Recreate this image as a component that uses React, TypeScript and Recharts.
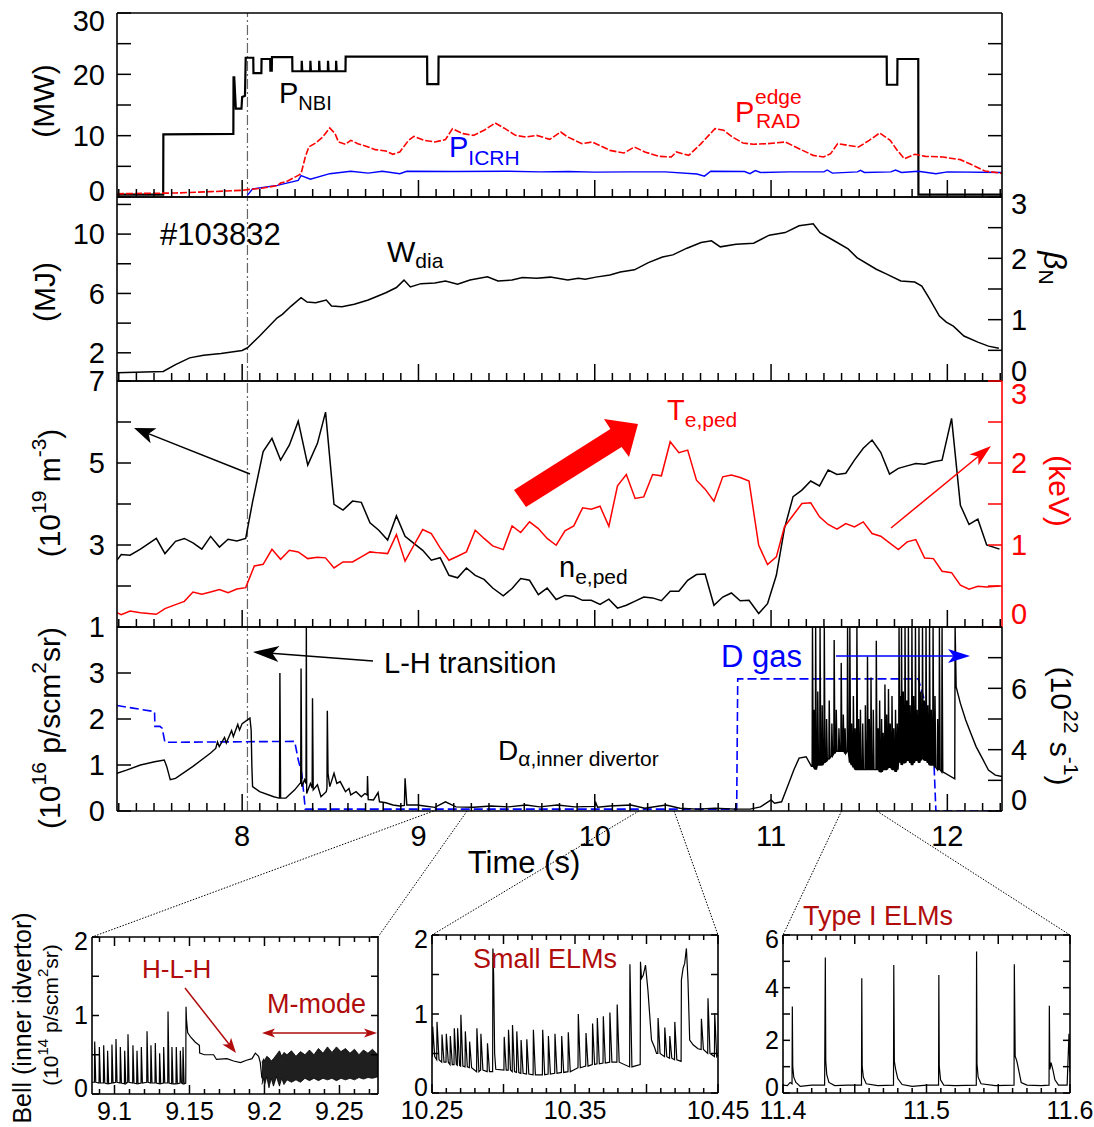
import React from 'react';
import { ComposedChart, Line, Area, XAxis, YAxis, ReferenceLine } from 'recharts';

const FONT = "'Liberation Sans', Arial, Helvetica, sans-serif";
const BLACK = '#000000';
const RED = '#ff0000';
const BLUE = '#0000ff';
const DARKRED = '#b00c0c';
const AXIS_LINE = { stroke: '#000', strokeWidth: 1.6 };

type Pt = [number, number];
type Spike = [number, number, number]; // time, baseline, peak

// ================= MAIN FIGURE DATA =================
const timeDomain: [number, number] = [7.29, 12.31];
const timeTickLabels = [8, 9, 10, 11, 12];
const timeTicks = Array.from({ length: 51 }, (_, i) => (73 + i) / 10);
const lhTime = 8.03;

// Panel 1 (MW)
const nbiPower: Pt[] = [
  [7.29, 0.4], [7.552, 0.4], [7.553, 10.2], [7.95, 10.3], [7.951, 19.5], [7.955, 19.5], [7.964, 14.4], [7.996, 14.4],
  [8.0, 16.3], [8.016, 16.5], [8.02, 22.7], [8.063, 22.7], [8.064, 20.2], [8.109, 20.2], [8.11, 22.5], [8.159, 22.5],
  [8.16, 20.6], [8.168, 20.6], [8.169, 22.8], [8.284, 22.8], [8.285, 20.5], [8.337, 20.5], [8.338, 22.2], [8.341, 20.5],
  [8.386, 20.5], [8.387, 22.2], [8.39, 20.5], [8.436, 20.5], [8.437, 22.2], [8.44, 20.5], [8.486, 20.5], [8.487, 22.2],
  [8.49, 20.5], [8.532, 20.5], [8.533, 22.2], [8.536, 20.5], [8.586, 20.5], [8.587, 22.9], [9.049, 22.9], [9.05, 18.4],
  [9.113, 18.4], [9.114, 22.9], [11.656, 22.9], [11.657, 18.3], [11.716, 18.3], [11.717, 22.5], [11.835, 22.5],
  [11.836, 0.4], [12.31, 0.4],
];
const icrhPower: Pt[] = [
  [8.03, 0.3], [8.059, 1.3], [8.199, 1.9], [8.318, 2.7], [8.334, 3.5], [8.387, 2.9], [8.497, 3.8], [8.616, 4.2],
  [8.715, 3.9], [8.795, 4.2], [8.894, 3.8], [8.934, 4.2], [9.2, 4.15], [9.5, 4.2], [9.69, 4.1], [9.85, 4.15],
  [10.0, 4.05], [10.2, 4.1], [10.4, 4.1], [10.58, 3.75], [10.622, 3.4], [10.658, 4.2], [10.85, 4.15], [10.88, 3.8],
  [10.911, 4.3], [10.94, 4.0], [11.1, 4.1], [11.3, 4.1], [11.318, 4.4], [11.348, 3.9], [11.49, 4.1], [11.507, 4.35],
  [11.53, 4.0], [11.68, 4.1], [11.706, 4.4], [11.74, 4.0], [11.835, 4.2], [11.935, 3.8], [12.0, 4.1], [12.31, 4.0],
];
const pRadEdge: Pt[] = [
  [7.29, 0.54], [7.622, 0.65], [7.821, 0.87], [8.0, 1.09], [8.03, 1.2], [8.119, 1.47], [8.199, 1.85], [8.218, 2.28],
  [8.258, 2.6], [8.318, 3.53], [8.334, 3.8], [8.358, 6.52], [8.378, 8.15], [8.417, 8.8], [8.457, 9.78], [8.497, 11.25],
  [8.527, 10.33], [8.546, 8.97], [8.586, 8.59], [8.616, 9.24], [8.656, 8.7], [8.715, 8.15], [8.755, 7.72], [8.815, 7.5],
  [8.855, 6.96], [8.894, 7.34], [8.944, 9.24], [8.974, 9.89], [9.034, 9.24], [9.093, 8.97], [9.153, 9.35], [9.193, 11.14],
  [9.252, 10.33], [9.312, 10.05], [9.372, 10.87], [9.435, 12.07], [9.491, 11.14], [9.55, 10.05], [9.61, 9.78], [9.67, 10.05],
  [9.745, 9.4], [9.807, 10.6], [9.847, 9.78], [9.927, 8.7], [9.986, 8.97], [10.086, 7.6], [10.165, 7.17], [10.225, 8.15],
  [10.284, 7.34], [10.364, 6.63], [10.434, 6.52], [10.463, 7.34], [10.533, 6.79], [10.603, 8.7], [10.682, 11.14],
  [10.732, 10.87], [10.781, 9.78], [10.841, 8.8], [10.901, 8.59], [10.98, 8.7], [11.08, 8.97], [11.159, 7.88],
  [11.239, 6.79], [11.298, 6.52], [11.338, 7.07], [11.378, 8.7], [11.437, 8.42], [11.497, 8.15], [11.557, 9.24],
  [11.616, 10.43], [11.676, 9.24], [11.716, 7.6], [11.756, 6.25], [11.815, 6.96], [11.875, 6.63], [11.974, 6.52],
  [12.074, 6.09], [12.133, 5.33], [12.213, 4.24], [12.296, 3.91], [12.31, 3.85],
];

// Panel 2 (MJ)
const wDia: Pt[] = [
  [7.29, 0.65], [7.552, 0.74], [7.622, 1.2], [7.702, 1.66], [7.781, 1.84], [7.88, 1.95], [8.0, 2.16], [8.03, 2.34],
  [8.099, 3.13], [8.199, 4.36], [8.228, 4.59], [8.278, 5.15], [8.334, 5.72], [8.368, 5.42], [8.417, 5.38], [8.477, 5.56],
  [8.507, 5.15], [8.566, 5.1], [8.636, 5.27], [8.715, 5.56], [8.815, 6.05], [8.875, 6.4], [8.918, 6.9], [8.954, 6.44],
  [9.014, 6.66], [9.093, 6.7], [9.153, 6.84], [9.222, 6.62], [9.292, 6.9], [9.391, 7.13], [9.451, 6.84], [9.531, 6.9],
  [9.59, 7.07], [9.67, 7.03], [9.748, 7.1], [9.847, 6.9], [9.907, 7.02], [9.946, 6.95], [10.006, 7.1], [10.086, 7.25],
  [10.145, 7.45], [10.225, 7.59], [10.304, 8.08], [10.384, 8.46], [10.443, 8.6], [10.523, 9.05], [10.603, 9.43],
  [10.662, 9.55], [10.712, 9.14], [10.801, 9.32], [10.901, 9.39], [10.99, 9.93], [11.08, 10.1], [11.159, 10.56],
  [11.239, 10.7], [11.278, 10.1], [11.358, 9.55], [11.437, 9.0], [11.487, 8.42], [11.597, 7.63], [11.656, 7.3],
  [11.736, 6.84], [11.815, 6.77], [11.855, 6.5], [11.895, 5.72], [11.955, 4.48], [11.994, 4.07], [12.034, 3.8],
  [12.094, 3.13], [12.173, 2.72], [12.233, 2.45], [12.292, 2.3],
];

// Panel 3
const nePed: Pt[] = [
  [7.29, 2.63], [7.314, 2.77], [7.364, 2.75], [7.423, 2.9], [7.513, 3.16], [7.562, 2.79], [7.622, 3.09], [7.672, 3.16],
  [7.721, 3.05], [7.771, 2.9], [7.821, 3.21], [7.871, 2.95], [7.92, 3.14], [7.97, 3.1], [8.02, 3.16], [8.059, 4.05],
  [8.119, 5.28], [8.169, 5.6], [8.218, 5.07], [8.268, 5.44], [8.318, 6.02], [8.372, 4.95], [8.427, 5.48], [8.473, 6.24],
  [8.521, 3.99], [8.572, 3.85], [8.626, 4.07], [8.676, 4.04], [8.725, 3.54], [8.775, 3.36], [8.825, 3.12], [8.875, 3.71],
  [8.924, 3.21], [8.974, 3.04], [9.024, 2.87], [9.073, 2.63], [9.123, 2.69], [9.173, 2.26], [9.222, 2.2], [9.272, 2.44],
  [9.322, 2.26], [9.372, 2.16], [9.421, 1.95], [9.481, 1.76], [9.531, 1.94], [9.58, 2.18], [9.63, 2.14], [9.68, 1.79],
  [9.73, 1.95], [9.781, 1.67], [9.831, 1.77], [9.881, 1.75], [9.931, 1.65], [9.98, 1.65], [10.03, 1.55], [10.08, 1.68],
  [10.129, 1.46], [10.179, 1.53], [10.229, 1.63], [10.278, 1.73], [10.328, 1.71], [10.378, 1.64], [10.428, 1.87],
  [10.477, 1.87], [10.527, 2.14], [10.577, 2.28], [10.626, 2.29], [10.676, 1.53], [10.726, 1.73], [10.775, 1.83],
  [10.825, 1.64], [10.875, 1.65], [10.93, 1.33], [10.98, 1.57], [11.03, 2.26], [11.076, 3.4], [11.125, 4.18],
  [11.175, 4.34], [11.225, 4.56], [11.275, 4.44], [11.324, 4.83], [11.374, 4.72], [11.424, 4.75], [11.473, 5.07],
  [11.523, 5.36], [11.573, 5.56], [11.622, 5.26], [11.672, 4.73], [11.722, 4.87], [11.772, 4.93], [11.821, 4.99],
  [11.871, 4.97], [11.921, 5.03], [11.97, 5.07], [12.024, 6.09], [12.074, 3.97], [12.123, 3.5], [12.173, 3.63],
  [12.223, 3.0], [12.296, 2.9],
];
const tePed: Pt[] = [
  [7.29, 0.175], [7.314, 0.15], [7.364, 0.195], [7.423, 0.175], [7.513, 0.155], [7.562, 0.224], [7.622, 0.273],
  [7.672, 0.313], [7.721, 0.427], [7.771, 0.4], [7.821, 0.427], [7.871, 0.456], [7.92, 0.419], [7.97, 0.464],
  [8.02, 0.48], [8.069, 0.745], [8.119, 0.765], [8.169, 0.948], [8.218, 0.826], [8.268, 0.936], [8.318, 0.916],
  [8.372, 0.834], [8.427, 0.85], [8.473, 0.843], [8.521, 0.72], [8.572, 0.794], [8.626, 0.794], [8.676, 0.855],
  [8.725, 0.916], [8.775, 0.904], [8.825, 0.895], [8.875, 1.127], [8.924, 0.802], [8.974, 0.997], [9.024, 1.188],
  [9.073, 1.14], [9.123, 0.965], [9.173, 0.814], [9.222, 0.863], [9.272, 0.916], [9.322, 1.18], [9.372, 1.08],
  [9.421, 0.989], [9.481, 0.944], [9.531, 1.233], [9.58, 1.152], [9.63, 1.282], [9.68, 1.2], [9.73, 1.08],
  [9.781, 0.997], [9.831, 1.172], [9.881, 1.233], [9.931, 1.453], [9.98, 1.437], [10.03, 1.473], [10.08, 1.229],
  [10.129, 1.722], [10.179, 1.86], [10.229, 1.567], [10.278, 1.587], [10.328, 1.86], [10.378, 1.844], [10.428, 2.259],
  [10.477, 2.125], [10.527, 2.157], [10.577, 1.79], [10.626, 1.681], [10.676, 1.534], [10.726, 1.831], [10.775, 1.852],
  [10.825, 1.823], [10.875, 1.779], [10.93, 0.997], [10.98, 0.761], [11.03, 0.855], [11.076, 1.221], [11.125, 1.363],
  [11.175, 1.506], [11.225, 1.514], [11.275, 1.343], [11.324, 1.25], [11.374, 1.193], [11.424, 1.262], [11.473, 1.221],
  [11.523, 1.282], [11.573, 1.14], [11.622, 1.107], [11.672, 1.026], [11.722, 0.944], [11.772, 1.038], [11.821, 1.066],
  [11.871, 0.842], [11.921, 0.834], [11.97, 0.68], [12.024, 0.663], [12.074, 0.509], [12.123, 0.46], [12.173, 0.497],
  [12.223, 0.488], [12.296, 0.5],
];

// Panel 4: D-alpha (10^16 p/scm^2sr) and D gas (right axis tick units)
const dAlphaTrace: Pt[] = [
  [7.29, 0.82], [7.344, 0.89], [7.423, 1.0], [7.503, 1.07], [7.558, 1.11], [7.572, 0.97], [7.592, 0.68], [7.622, 0.71],
  [7.721, 0.97], [7.821, 1.26], [7.85, 1.36], [7.86, 1.5], [7.87, 1.4], [7.9, 1.6], [7.91, 1.48], [7.94, 1.75],
  [7.95, 1.62], [7.975, 1.88], [7.985, 1.76], [8.0, 1.9], [8.03, 1.98], [8.044, 2.02], [8.051, 1.76], [8.055, 0.97],
  [8.059, 0.53], [8.099, 0.42], [8.179, 0.31], [8.209, 0.28], [8.212, 0.28], [8.214, 3.0], [8.218, 0.28], [8.248, 0.28],
  [8.298, 0.46], [8.328, 0.6], [8.332, 0.6], [8.334, 3.1], [8.338, 0.53], [8.354, 0.68], [8.362, 0.6], [8.364, 4.0],
  [8.366, 0.38], [8.387, 0.6], [8.397, 0.5], [8.399, 2.45], [8.403, 0.46], [8.427, 0.57], [8.447, 0.31], [8.477, 0.42],
  [8.481, 0.5], [8.483, 2.18], [8.487, 0.82], [8.497, 0.53], [8.507, 0.65], [8.521, 0.82], [8.537, 0.6], [8.556, 0.64],
  [8.586, 0.42], [8.606, 0.49], [8.616, 0.35], [8.646, 0.42], [8.676, 0.31], [8.696, 0.38], [8.709, 0.35], [8.711, 0.76],
  [8.715, 0.25], [8.745, 0.24], [8.771, 0.4], [8.779, 0.2], [8.815, 0.18], [8.855, 0.13], [8.894, 0.11], [8.92, 0.12],
  [8.924, 0.71], [8.934, 0.13], [8.994, 0.13], [9.034, 0.11], [9.093, 0.08], [9.153, 0.2], [9.213, 0.09], [9.312, 0.08],
  [9.411, 0.11], [9.511, 0.09], [9.61, 0.13], [9.688, 0.09], [9.787, 0.13], [9.887, 0.09], [10.0, 0.1], [10.006, 0.18],
  [10.016, 0.08], [10.086, 0.11], [10.205, 0.13], [10.284, 0.06], [10.404, 0.13], [10.483, 0.06], [10.583, 0.04],
  [10.682, 0.06], [10.801, 0.04], [10.881, 0.04], [10.94, 0.09], [11.0, 0.24], [11.02, 0.17], [11.06, 0.2], [11.1, 0.6],
  [11.129, 0.89], [11.159, 1.15], [11.199, 1.18], [11.229, 0.97],
  [12.042, 0.7], [12.044, 4.0], [12.05, 2.7], [12.074, 2.34], [12.104, 1.98], [12.133, 1.69], [12.163, 1.4],
  [12.203, 1.11], [12.233, 0.89], [12.272, 0.78], [12.31, 0.75],
];
const dAlphaElms: Spike[] = [
  [11.235, 0.97, 4.0], [11.244, 0.95, 2.2], [11.253, 0.9, 4.0], [11.265, 1.0, 2.6], [11.278, 1.0, 4.0],
  [11.29, 1.0, 2.3], [11.302, 1.05, 4.0], [11.315, 1.1, 2.0], [11.33, 1.15, 2.4], [11.345, 1.2, 1.9],
  [11.358, 1.25, 3.72], [11.37, 1.3, 2.2], [11.385, 1.3, 1.8], [11.398, 1.3, 3.22], [11.41, 1.3, 2.1],
  [11.42, 1.25, 1.8], [11.434, 1.3, 4.0], [11.447, 1.05, 4.0], [11.457, 1.0, 1.9], [11.467, 0.95, 2.5],
  [11.477, 0.9, 1.8], [11.487, 0.9, 4.0], [11.497, 0.9, 2.0], [11.507, 0.9, 2.2], [11.52, 0.9, 1.9],
  [11.535, 0.9, 2.3], [11.547, 0.9, 3.36], [11.557, 0.9, 2.0], [11.567, 0.9, 2.9], [11.58, 0.9, 2.2],
  [11.597, 0.9, 3.7], [11.607, 0.9, 1.8], [11.616, 0.85, 2.4], [11.627, 0.85, 2.0], [11.636, 0.9, 1.7],
  [11.646, 0.9, 2.75], [11.656, 0.9, 2.1], [11.666, 0.95, 2.65], [11.676, 0.95, 1.9], [11.686, 0.9, 2.5],
  [11.696, 0.9, 1.8], [11.706, 0.85, 2.2], [11.716, 0.9, 1.9], [11.726, 1.1, 4.0], [11.733, 1.05, 2.5],
  [11.74, 1.0, 4.0], [11.75, 1.05, 2.6], [11.76, 1.05, 4.0], [11.77, 1.1, 2.4], [11.779, 1.1, 4.0],
  [11.789, 1.05, 2.3], [11.799, 1.0, 4.0], [11.809, 1.05, 2.5], [11.819, 1.1, 4.0], [11.829, 1.1, 2.2],
  [11.839, 1.05, 4.0], [11.849, 1.1, 2.6], [11.859, 1.15, 4.0], [11.869, 1.1, 2.4], [11.879, 1.1, 4.0],
  [11.889, 1.05, 2.3], [11.899, 1.0, 4.0], [11.909, 1.0, 2.2], [11.919, 1.0, 4.0], [11.93, 0.95, 2.5],
  [11.945, 0.9, 2.0], [11.955, 0.9, 4.0], [11.97, 0.85, 4.0],
];
const gasRate: Pt[] = [
  [7.29, 3.44], [7.503, 3.24], [7.505, 2.76], [7.533, 2.76], [7.546, 2.7], [7.562, 2.24], [8.298, 2.27],
  [8.318, 1.67], [8.338, 1.23], [8.358, 0.06], [10.805, 0.06], [10.811, 4.31], [11.835, 4.31], [11.875, 3.51],
  [11.905, 2.43], [11.925, 1.45], [11.935, 0.0], [12.31, 0.0],
];
const gasTickLabels: Record<number, string> = { 0: '0', 2: '4', 4: '6' };

// ================= INSETS DATA (Bell, 10^14 p/scm^2sr) =================
const inset1Domain: [number, number] = [9.085, 9.2757];
const inset1XLabels = [9.1, 9.15, 9.2, 9.25];
const inset1Elms: Spike[] = [
  [9.0868, 0.15, 0.67], [9.0899, 0.14, 0.6], [9.0928, 0.14, 0.62], [9.0954, 0.13, 0.55], [9.0983, 0.14, 0.63],
  [9.101, 0.15, 0.7], [9.1039, 0.14, 0.6], [9.1068, 0.13, 0.55], [9.109, 0.15, 0.76], [9.1123, 0.14, 0.62],
  [9.115, 0.13, 0.55], [9.1179, 0.14, 0.6], [9.1217, 0.15, 0.8], [9.1243, 0.14, 0.62], [9.1272, 0.14, 0.65],
  [9.1301, 0.13, 0.52], [9.1328, 0.14, 0.6], [9.1357, 0.14, 1.05], [9.1383, 0.13, 0.6], [9.1412, 0.13, 0.6],
  [9.1439, 0.14, 0.55], [9.1457, 0.13, 0.6],
];
const inset1Trace: Pt[] = [
  [9.085, 0.15], [9.1475, 0.14], [9.1477, 1.11], [9.148, 0.95], [9.1488, 0.78], [9.151, 0.72], [9.1539, 0.66],
  [9.1566, 0.62], [9.1568, 0.52], [9.16, 0.5], [9.1661, 0.5], [9.168, 0.44], [9.175, 0.45], [9.1794, 0.42],
  [9.184, 0.4], [9.188, 0.43], [9.1917, 0.45], [9.1939, 0.52], [9.1961, 0.48], [9.1972, 0.4], [9.1983, 0.2],
];
const inset1MmodeBand: [number, number, number][] = [
  [9.1983, 0.12, 0.4], [9.1995, 0.2, 0.45], [9.2, 0.1, 0.42], [9.2015, 0.22, 0.48], [9.203, 0.08, 0.46],
  [9.2045, 0.2, 0.42], [9.206, 0.1, 0.45], [9.208, 0.22, 0.5], [9.21, 0.1, 0.55], [9.2115, 0.2, 0.48],
  [9.213, 0.12, 0.53], [9.215, 0.18, 0.5], [9.218, 0.15, 0.55], [9.221, 0.18, 0.48], [9.224, 0.15, 0.54],
  [9.227, 0.2, 0.5], [9.23, 0.17, 0.56], [9.233, 0.2, 0.5], [9.236, 0.17, 0.58], [9.239, 0.2, 0.52],
  [9.242, 0.18, 0.6], [9.245, 0.2, 0.53], [9.248, 0.17, 0.6], [9.251, 0.2, 0.54], [9.254, 0.18, 0.58],
  [9.257, 0.2, 0.52], [9.26, 0.18, 0.57], [9.263, 0.21, 0.5], [9.266, 0.19, 0.56], [9.269, 0.21, 0.52],
  [9.272, 0.2, 0.57], [9.2757, 0.22, 0.5],
];

const inset2Domain: [number, number] = [10.25, 10.45];
const inset2XLabels = [10.25, 10.35, 10.45];
const inset2Elms: Spike[] = [
  [10.2505, 0.46, 0.84], [10.2535, 0.42, 0.9], [10.257, 0.39, 0.74], [10.26, 0.39, 0.75], [10.2628, 0.36, 0.72],
  [10.2656, 0.36, 0.82], [10.2679, 0.35, 0.82], [10.2702, 0.34, 0.99], [10.2733, 0.33, 0.78], [10.2763, 0.32, 0.65],
  [10.2814, 0.27, 0.82], [10.2842, 0.29, 0.75], [10.2888, 0.27, 0.63], [10.3005, 0.29, 0.71], [10.3035, 0.29, 0.8],
  [10.3063, 0.27, 0.86], [10.3093, 0.26, 0.78], [10.3123, 0.25, 0.67], [10.3163, 0.24, 0.68], [10.3209, 0.23, 0.8],
  [10.3274, 0.23, 0.8], [10.3314, 0.24, 0.72], [10.336, 0.25, 0.75], [10.3407, 0.26, 0.72], [10.3453, 0.27, 0.77],
  [10.3523, 0.32, 1.0], [10.3577, 0.34, 0.76], [10.3623, 0.36, 0.88], [10.3656, 0.37, 0.95], [10.3698, 0.38, 0.97],
  [10.3744, 0.39, 1.02], [10.3795, 0.39, 1.12], [10.3884, 0.33, 1.63], [10.4081, 0.5, 0.95], [10.4128, 0.46, 0.83],
  [10.4163, 0.44, 0.72], [10.4198, 0.42, 0.9], [10.4384, 0.55, 0.94], [10.443, 0.5, 1.2], [10.4477, 0.46, 1.01],
];
const inset2Trace: Pt[] = [
  [10.25, 0.5], [10.2924, 0.27], [10.2926, 1.83], [10.2931, 1.5], [10.2938, 0.5], [10.2946, 0.3],
  [10.3956, 0.36], [10.3958, 1.66], [10.3965, 1.45], [10.3977, 1.49], [10.3993, 1.62], [10.401, 1.3],
  [10.4035, 0.67], [10.4058, 0.57], [10.407, 0.5],
  [10.4242, 0.4], [10.4244, 1.43], [10.4256, 1.58], [10.4267, 1.64], [10.4279, 1.83], [10.429, 1.43],
  [10.4302, 0.67], [10.4326, 0.61], [10.436, 0.56], [10.45, 0.48],
];

const inset3Domain: [number, number] = [11.4, 11.6];
const inset3XLabels = [11.4, 11.5, 11.6];
const inset3Trace: Pt[] = [
  [11.4, 0.3], [11.403, 0.28], [11.405, 0.4], [11.4063, 0.35], [11.4065, 3.28], [11.4068, 1.0], [11.4075, 0.6],
  [11.409, 0.4], [11.412, 0.25], [11.42, 0.3], [11.429, 0.3], [11.4295, 5.15], [11.4298, 1.2], [11.4305, 0.7],
  [11.432, 0.4], [11.436, 0.28], [11.445, 0.3], [11.4547, 0.3], [11.4549, 4.36], [11.4552, 1.0], [11.456, 0.6],
  [11.458, 0.35], [11.466, 0.28], [11.477, 0.3], [11.4772, 4.86], [11.4776, 1.2], [11.4785, 0.9], [11.48, 0.55],
  [11.483, 0.32], [11.49, 0.25], [11.5, 0.3], [11.5084, 0.3], [11.5086, 4.48], [11.5089, 1.0], [11.5098, 0.5],
  [11.512, 0.3], [11.52, 0.28], [11.5347, 0.3], [11.5349, 5.37], [11.5352, 1.1], [11.536, 0.6], [11.538, 0.35],
  [11.548, 0.28], [11.561, 0.3], [11.5612, 4.89], [11.5618, 1.4], [11.563, 1.2], [11.5645, 0.8], [11.566, 0.4],
  [11.57, 0.3], [11.58, 0.28], [11.5854, 0.3], [11.5856, 3.31], [11.586, 0.9], [11.5868, 1.15], [11.588, 0.9],
  [11.5895, 0.5], [11.592, 0.3], [11.598, 0.3], [11.5993, 2.25], [11.6, 0.8],
];

// ================= helpers =================
const toData = (a: Pt[]) => a.map(([t, v]) => ({ t, v }));
function spikeTrain(spikes: Spike[], extra: Pt[], rise: number, fall: number) {
  const pts: Pt[] = [];
  for (const [t, b, p] of spikes) {
    pts.push([t - rise, b], [t, p], [t + fall, b]);
  }
  for (const e of extra) pts.push(e);
  pts.sort((a, b) => a[0] - b[0]);
  return toData(pts);
}
const isMult = (v: number, step: number) => Math.abs(v / step - Math.round(v / step)) < 1e-6;
const findIn = (v: number, list: number[]) => list.find((l) => Math.abs(l - v) < 1e-6);

interface TickSpec {
  side: 'bottom' | 'top' | 'left' | 'right';
  gap: number;
  len: (v: number) => number;
  label?: (v: number) => string | null;
  fs?: number;
  color?: string;
  shift?: (v: number) => number;
}
function mkTick(s: TickSpec) {
  return (props: any) => {
    const x = Number(props.x);
    const y = Number(props.y);
    const v = Number(props.payload && props.payload.value);
    const c = s.color || BLACK;
    const L = s.len(v);
    const lab = s.label ? s.label(v) : null;
    const fs = s.fs || 29;
    const sh = s.shift ? s.shift(v) : 0;
    let line: any = null;
    let txt: any = null;
    if (s.side === 'bottom') {
      const e = y - s.gap;
      line = <line x1={x} x2={x} y1={e} y2={e - L} stroke={c} strokeWidth={1.5} />;
      if (lab !== null && lab !== undefined)
        txt = (
          <text x={x} y={y + 0.72 * fs + sh} textAnchor="middle" fontSize={fs} fontFamily={FONT} fill={c}>
            {lab}
          </text>
        );
    } else if (s.side === 'top') {
      const e = y + s.gap;
      line = <line x1={x} x2={x} y1={e} y2={e + L} stroke={c} strokeWidth={1.5} />;
    } else if (s.side === 'left') {
      const e = x + s.gap;
      line = <line x1={e} x2={e + L} y1={y} y2={y} stroke={c} strokeWidth={1.5} />;
      if (lab !== null && lab !== undefined)
        txt = (
          <text x={x} y={y + 0.355 * fs + sh} textAnchor="end" fontSize={fs} fontFamily={FONT} fill={c}>
            {lab}
          </text>
        );
    } else {
      const e = x - s.gap;
      line = <line x1={e} x2={e - L} y1={y} y2={y} stroke={c} strokeWidth={1.5} />;
      if (lab !== null && lab !== undefined)
        txt = (
          <text x={x} y={y + 0.355 * fs + sh} textAnchor="start" fontSize={fs} fontFamily={FONT} fill={c}>
            {lab}
          </text>
        );
    }
    return (
      <g>
        {line}
        {txt}
      </g>
    );
  };
}

// ================= layout =================
const PX_L = 117;
const PX_R = 1002;
const P1: [number, number] = [13, 197];
const P2: [number, number] = [197, 381];
const P3: [number, number] = [381, 627];
const P4: [number, number] = [627, 811];
const INSET1 = { x: 92, y: 937, w: 286, h: 157, leftW: 92, rightW: 20 };
const INSET2 = { x: 432, y: 935, w: 286, h: 158, leftW: 44, rightW: 34 };
const INSET3 = { x: 783, y: 935, w: 287, h: 158, leftW: 44, rightW: 24 };

interface AxisCfg {
  domain: [number, number];
  ticks: number[];
  label?: (v: number) => string | null;
  shift?: (v: number) => number;
  color?: string;
}

function MainPanel(p: { rect: [number, number]; left: AxisCfg; right: AxisCfg; bottomH: number; xLabels: boolean; children: any }) {
  const h = p.rect[1] - p.rect[0];
  const rc = p.right.color || BLACK;
  return (
    <div style={{ position: 'absolute', left: 0, top: p.rect[0] - 30 }}>
      <ComposedChart width={1094} height={h + 30 + p.bottomH} margin={{ top: 0, right: 0, bottom: 0, left: 0 }}>
        <XAxis xAxisId="top" orientation="top" type="number" dataKey="t" domain={timeDomain} allowDataOverflow height={30} tick={false} tickLine={false} axisLine={AXIS_LINE} />
        <XAxis
          xAxisId="b" type="number" dataKey="t" domain={timeDomain} allowDataOverflow height={p.bottomH}
          ticks={timeTicks} interval={0} tickLine={false} tickSize={0} tickMargin={14} axisLine={AXIS_LINE}
          tick={mkTick({
            side: 'bottom', gap: 14, len: (v) => (isMult(v, 1) ? 17 : 8), fs: 29,
            label: p.xLabels ? (v) => { const f = findIn(v, timeTickLabels); return f === undefined ? null : String(f); } : undefined,
          })}
        />
        <YAxis
          yAxisId="l" type="number" domain={p.left.domain} allowDataOverflow width={PX_L} ticks={p.left.ticks} interval={0}
          tickLine={false} tickSize={0} tickMargin={12} axisLine={AXIS_LINE}
          tick={mkTick({ side: 'left', gap: 12, len: () => 14, label: p.left.label, fs: 29, shift: p.left.shift })}
        />
        <YAxis
          yAxisId="r" orientation="right" type="number" domain={p.right.domain} allowDataOverflow width={1094 - PX_R}
          ticks={p.right.ticks} interval={0} tickLine={false} tickSize={0} tickMargin={9} axisLine={{ stroke: rc, strokeWidth: 1.6 }}
          tick={mkTick({ side: 'right', gap: 9, len: () => 14, label: p.right.label, fs: 29, color: rc, shift: p.right.shift })}
        />
        <ReferenceLine xAxisId="b" yAxisId="l" x={lhTime} stroke="#666" strokeWidth={1.2} strokeDasharray="10 3 2 3" />
        {p.children}
      </ComposedChart>
    </div>
  );
}

function InsetPanel(p: { box: any; xDomain: [number, number]; xLabels: number[]; yDomain: [number, number]; yTicks: number[]; yLabels: number[]; children: any }) {
  const b = p.box;
  const n = Math.round((p.xDomain[1] - p.xDomain[0]) / 0.01) + 2;
  const xt = Array.from({ length: n }, (_, i) => Math.round(Math.ceil(p.xDomain[0] * 100 - 1e-6) + i) / 100).filter(
    (v) => v >= p.xDomain[0] - 1e-9 && v <= p.xDomain[1] + 1e-9
  );
  const len = (v: number) => (isMult(v, 0.05) ? 9 : 5);
  const top = p.yDomain[1];
  return (
    <div style={{ position: 'absolute', left: b.x - b.leftW, top: b.y - 20 }}>
      <ComposedChart width={b.leftW + b.w + b.rightW} height={20 + b.h + 36} margin={{ top: 0, right: 0, bottom: 0, left: 0 }}>
        <XAxis xAxisId="top" orientation="top" type="number" dataKey="t" domain={p.xDomain} allowDataOverflow height={20}
          ticks={xt} interval={0} tickLine={false} tickSize={0} tickMargin={4} axisLine={AXIS_LINE}
          tick={mkTick({ side: 'top', gap: 4, len })} />
        <XAxis xAxisId="b" type="number" dataKey="t" domain={p.xDomain} allowDataOverflow height={36}
          ticks={xt} interval={0} tickLine={false} tickSize={0} tickMargin={8} axisLine={AXIS_LINE}
          tick={mkTick({ side: 'bottom', gap: 8, len, fs: 25, label: (v) => { const f = findIn(v, p.xLabels); return f === undefined ? null : String(f); } })} />
        <YAxis yAxisId="l" type="number" domain={p.yDomain} allowDataOverflow width={b.leftW} ticks={p.yTicks} interval={0}
          tickLine={false} tickSize={0} tickMargin={4} axisLine={AXIS_LINE}
          tick={mkTick({
            side: 'left', gap: 4, len: () => 7, fs: 25,
            label: (v) => { const f = findIn(v, p.yLabels); return f === undefined ? null : String(f); },
            shift: (v) => (Math.abs(v - top) < 1e-6 ? 4 : Math.abs(v) < 1e-6 ? -6 : 0),
          })} />
        <YAxis yAxisId="r" orientation="right" type="number" domain={p.yDomain} allowDataOverflow width={b.rightW} ticks={p.yTicks} interval={0}
          tickLine={false} tickSize={0} tickMargin={4} axisLine={AXIS_LINE}
          tick={mkTick({ side: 'right', gap: 4, len: () => 7 })} />
        {p.children}
      </ComposedChart>
    </div>
  );
}

function Arrow(p: { x1: number; y1: number; x2: number; y2: number; color: string; hl: number; hw: number; sw?: number; both?: boolean }) {
  const dx = p.x2 - p.x1;
  const dy = p.y2 - p.y1;
  const L = Math.hypot(dx, dy);
  const ux = dx / L, uy = dy / L;
  const nx = -uy, ny = ux;
  const head = (tx: number, ty: number, sx: number, sy: number) =>
    `${tx},${ty} ${tx - sx * p.hl + (nx * p.hw) / 2},${ty - sy * p.hl + (ny * p.hw) / 2} ${tx - sx * p.hl * 0.75},${ty - sy * p.hl * 0.75} ${tx - sx * p.hl - (nx * p.hw) / 2},${ty - sy * p.hl - (ny * p.hw) / 2}`;
  const sx1 = p.both ? p.x1 + ux * p.hl * 0.7 : p.x1;
  const sy1 = p.both ? p.y1 + uy * p.hl * 0.7 : p.y1;
  return (
    <g>
      <line x1={sx1} y1={sy1} x2={p.x2 - ux * p.hl * 0.7} y2={p.y2 - uy * p.hl * 0.7} stroke={p.color} strokeWidth={p.sw || 1.5} />
      <polygon points={head(p.x2, p.y2, ux, uy)} fill={p.color} />
      {p.both ? <polygon points={head(p.x1, p.y1, -ux, -uy)} fill={p.color} /> : null}
    </g>
  );
}

function Overlay() {
  const tx = (t: number) => PX_L + ((t - timeDomain[0]) / (timeDomain[1] - timeDomain[0])) * (PX_R - PX_L);
  const links: [number, number, number][] = [
    [inset1Domain[0], INSET1.x, INSET1.y], [inset1Domain[1], INSET1.x + INSET1.w, INSET1.y],
    [inset2Domain[0], INSET2.x, INSET2.y], [inset2Domain[1], INSET2.x + INSET2.w, INSET2.y],
    [inset3Domain[0], INSET3.x, INSET3.y], [inset3Domain[1], INSET3.x + INSET3.w, INSET3.y],
  ];
  const rot = (a: number, x: number, y: number) => `rotate(${a} ${x} ${y})`;
  return (
    <svg width={1094} height={1127} style={{ position: 'absolute', left: 0, top: 0, pointerEvents: 'none' }} fontFamily={FONT}>
      {links.map(([t, x, y], i) => (
        <line key={i} x1={tx(t)} y1={P4[1]} x2={x} y2={y} stroke="#000" strokeWidth={1} strokeDasharray="1.5 1.5" />
      ))}
      {/* axis titles */}
      <text transform={rot(-90, 43, 101)} x={43} y={101} fontSize={30} textAnchor="middle" dominantBaseline="central">(MW)</text>
      <text transform={rot(-90, 44, 292)} x={44} y={292} fontSize={30} textAnchor="middle" dominantBaseline="central">(MJ)</text>
      <text transform={rot(-90, 49, 493)} x={49} y={493} fontSize={30} textAnchor="middle" dominantBaseline="central">
        (10<tspan fontSize={21} dy={-11}>19</tspan><tspan dy={11}>{'\u00a0m'}</tspan><tspan fontSize={21} dy={-11}>-3</tspan><tspan dy={11}>)</tspan>
      </text>
      <text transform={rot(-90, 49, 728)} x={49} y={728} fontSize={30} textAnchor="middle" dominantBaseline="central">
        (10<tspan fontSize={21} dy={-11}>16</tspan><tspan dy={11}>{'\u00a0p/scm'}</tspan><tspan fontSize={21} dy={-11}>2</tspan><tspan dy={11}>sr)</tspan>
      </text>
      <text transform={rot(90, 1055, 268)} x={1055} y={268} fontSize={32} fontStyle="italic" textAnchor="middle" dominantBaseline="central">
        β<tspan fontSize={21} fontStyle="normal" dy={8}>N</tspan>
      </text>
      <text transform={rot(90, 1059, 491)} x={1059} y={491} fontSize={30} fill={RED} textAnchor="middle" dominantBaseline="central">(keV)</text>
      <text transform={rot(90, 1061, 726)} x={1061} y={726} fontSize={30} textAnchor="middle" dominantBaseline="central">
        (10<tspan fontSize={21} dy={-11}>22</tspan><tspan dy={11}>{'\u00a0s'}</tspan><tspan fontSize={21} dy={-11}>-1</tspan><tspan dy={11}>)</tspan>
      </text>
      <text x={524} y={873} fontSize={31} textAnchor="middle">Time (s)</text>

      {/* panel annotations */}
      <text x={279} y={103} fontSize={29}>P<tspan fontSize={20} dy={7}>NBI</tspan></text>
      <text x={735} y={122} fontSize={29} fill={RED}>P</text>
      <text x={756} y={128} fontSize={21} fill={RED}>RAD</text>
      <text x={755} y={104} fontSize={21} fill={RED}>edge</text>
      <text x={449} y={157} fontSize={29} fill={BLUE}>P<tspan fontSize={21} dy={8}>ICRH</tspan></text>
      <text x={160} y={245} fontSize={31}>#103832</text>
      <text x={387} y={262} fontSize={30}>W<tspan fontSize={21} dy={6}>dia</tspan></text>
      <text x={667} y={420} fontSize={29} fill={RED}>T<tspan fontSize={21} dy={7}>e,ped</tspan></text>
      <text x={559} y={577} fontSize={29}>n<tspan fontSize={21} dy={7}>e,ped</tspan></text>
      <text x={384} y={673} fontSize={29}>L-H transition</text>
      <text x={498} y={760} fontSize={28}>D<tspan fontSize={21} dy={6}>α,inner divertor</tspan></text>
      <text x={721} y={667} fontSize={31} fill={BLUE}>D gas</text>

      <Arrow x1={373} y1={661} x2={253} y2={652} color={BLACK} hl={26} hw={16} />
      <Arrow x1={250} y1={474} x2={134} y2={428} color={BLACK} hl={21} hw={16} />
      <Arrow x1={891} y1={528} x2={991} y2={446} color={RED} hl={22} hw={14} />
      <Arrow x1={836} y1={656} x2={970} y2={656} color={BLUE} hl={22} hw={14} />
      <polygon points="514,490 526,507 621.6,446.9 629,457 638,424 604,419 610.4,429.1" fill={RED} />

      {/* inset annotations */}
      <text transform={rot(-90, 22, 1018)} x={22} y={1018} fontSize={25} textAnchor="middle" dominantBaseline="central">Bell (inner idvertor)</text>
      <text transform={rot(-90, 50, 1015)} x={50} y={1015} fontSize={21} textAnchor="middle" dominantBaseline="central">
        (10<tspan fontSize={15} dy={-8}>14</tspan><tspan dy={8}>{'\u00a0p/scm'}</tspan><tspan fontSize={15} dy={-8}>2</tspan><tspan dy={8}>sr)</tspan>
      </text>
      <text x={142} y={978} fontSize={26} fill={DARKRED}>H-L-H</text>
      <Arrow x1={185} y1={988} x2={236} y2={1053} color={DARKRED} hl={15} hw={11} />
      <text x={267} y={1013} fontSize={27} fill={DARKRED}>M-mode</text>
      <Arrow x1={262} y1={1033} x2={377} y2={1033} color={DARKRED} hl={13} hw={9} both />
      <text x={473} y={968} fontSize={27} fill={DARKRED}>Small ELMs</text>
      <text x={803} y={925} fontSize={27} fill={DARKRED}>Type I ELMs</text>
    </svg>
  );
}

const ln = { dot: false, activeDot: false, isAnimationActive: false, type: 'linear' as const, xAxisId: 'b' };
const labelSet = (list: number[]) => (v: number) => { const f = findIn(v, list); return f === undefined ? null : String(f); };

export default function App() {
  const dAlpha = spikeTrain(dAlphaElms, dAlphaTrace, 0.002, 0.004);
  const in1 = spikeTrain(inset1Elms, inset1Trace, 0.0002, 0.0007);
  const in1Band = inset1MmodeBand.map(([t, lo, hi]) => ({ t, band: [lo, hi] }));
  const in2 = spikeTrain(inset2Elms, inset2Trace, 0.0002, 0.0014);
  const in3 = toData(inset3Trace);
  return (
    <div style={{ position: 'absolute', left: 0, top: 0, width: 1094, height: 1127, background: '#fff', overflow: 'hidden' }}>
      <MainPanel
        rect={P1} bottomH={30} xLabels={false}
        left={{ domain: [0, 30], ticks: [0, 5, 10, 15, 20, 25, 30], label: labelSet([0, 10, 20, 30]), shift: (v) => (v === 30 ? 8 : v === 0 ? -6 : 0) }}
        right={{ domain: [0, 30], ticks: [5, 10, 15, 20, 25] }}
      >
        {[
          <Line key="nbi" {...ln} yAxisId="l" data={toData(nbiPower)} dataKey="v" stroke={BLACK} strokeWidth={2.2} />,
          <Line key="icrh" {...ln} yAxisId="l" data={toData(icrhPower)} dataKey="v" stroke={BLUE} strokeWidth={1.4} />,
          <Line key="prad" {...ln} yAxisId="l" data={toData(pRadEdge)} dataKey="v" stroke={RED} strokeWidth={1.6} strokeDasharray="7 2" />,
        ]}
      </MainPanel>
      <MainPanel
        rect={P2} bottomH={30} xLabels={false}
        left={{ domain: [0.1, 12.5], ticks: [2, 4, 6, 8, 10, 12], label: labelSet([2, 6, 10]) }}
        right={{ domain: [0, 3], ticks: [0, 0.5, 1, 1.5, 2, 2.5, 3], label: labelSet([0, 1, 2, 3]), shift: (v) => (v === 3 ? 7 : v === 0 ? -10 : 0) }}
      >
        {[<Line key="w" {...ln} yAxisId="l" data={toData(wDia)} dataKey="v" stroke={BLACK} strokeWidth={1.5} />]}
      </MainPanel>
      <MainPanel
        rect={P3} bottomH={30} xLabels={false}
        left={{ domain: [1, 7], ticks: [1, 2, 3, 4, 5, 6, 7], label: labelSet([1, 3, 5, 7]) }}
        right={{ domain: [0, 3], ticks: [0, 0.5, 1, 1.5, 2, 2.5, 3], label: labelSet([0, 1, 2, 3]), color: RED, shift: (v) => (v === 3 ? 13 : v === 0 ? -13 : 0) }}
      >
        {[
          <Line key="ne" {...ln} yAxisId="l" data={toData(nePed)} dataKey="v" stroke={BLACK} strokeWidth={1.5} />,
          <Line key="te" {...ln} yAxisId="r" data={toData(tePed)} dataKey="v" stroke={RED} strokeWidth={1.5} />,
        ]}
      </MainPanel>
      <MainPanel
        rect={P4} bottomH={70} xLabels={true}
        left={{ domain: [0, 4], ticks: [0, 1, 2, 3, 4], label: labelSet([0, 1, 2, 3]) }}
        right={{ domain: [0, 6], ticks: [0, 1, 2, 3, 4, 5, 6], label: (v) => gasTickLabels[Math.round(v)] ?? null, shift: (v) => (v === 0 ? -11 : 0) }}
      >
        {[
          <Line key="gas" {...ln} yAxisId="r" data={toData(gasRate)} dataKey="v" stroke={BLUE} strokeWidth={1.6} strokeDasharray="9 4" />,
          <Line key="da" {...ln} yAxisId="l" data={dAlpha} dataKey="v" stroke={BLACK} strokeWidth={1.4} />,
        ]}
      </MainPanel>

      <InsetPanel box={INSET1} xDomain={inset1Domain} xLabels={inset1XLabels} yDomain={[0, 2]} yTicks={[0, 0.5, 1, 1.5, 2]} yLabels={[0, 1, 2]}>
        {[
          <Area key="band" xAxisId="b" yAxisId="l" data={in1Band} dataKey="band" type="linear" stroke="#000" strokeWidth={0.8} fill="#000" fillOpacity={0.88} isAnimationActive={false} dot={false} activeDot={false} />,
          <Line key="i1" {...ln} yAxisId="l" data={in1} dataKey="v" stroke={BLACK} strokeWidth={1.2} />,
        ]}
      </InsetPanel>
      <InsetPanel box={INSET2} xDomain={inset2Domain} xLabels={inset2XLabels} yDomain={[0, 2]} yTicks={[0, 0.5, 1, 1.5, 2]} yLabels={[0, 1, 2]}>
        {[<Line key="i2" {...ln} yAxisId="l" data={in2} dataKey="v" stroke={BLACK} strokeWidth={1.2} />]}
      </InsetPanel>
      <InsetPanel box={INSET3} xDomain={inset3Domain} xLabels={inset3XLabels} yDomain={[0, 6]} yTicks={[0, 1, 2, 3, 4, 5, 6]} yLabels={[0, 2, 4, 6]}>
        {[<Line key="i3" {...ln} yAxisId="l" data={in3} dataKey="v" stroke={BLACK} strokeWidth={1.2} />]}
      </InsetPanel>

      <Overlay />
    </div>
  );
}
